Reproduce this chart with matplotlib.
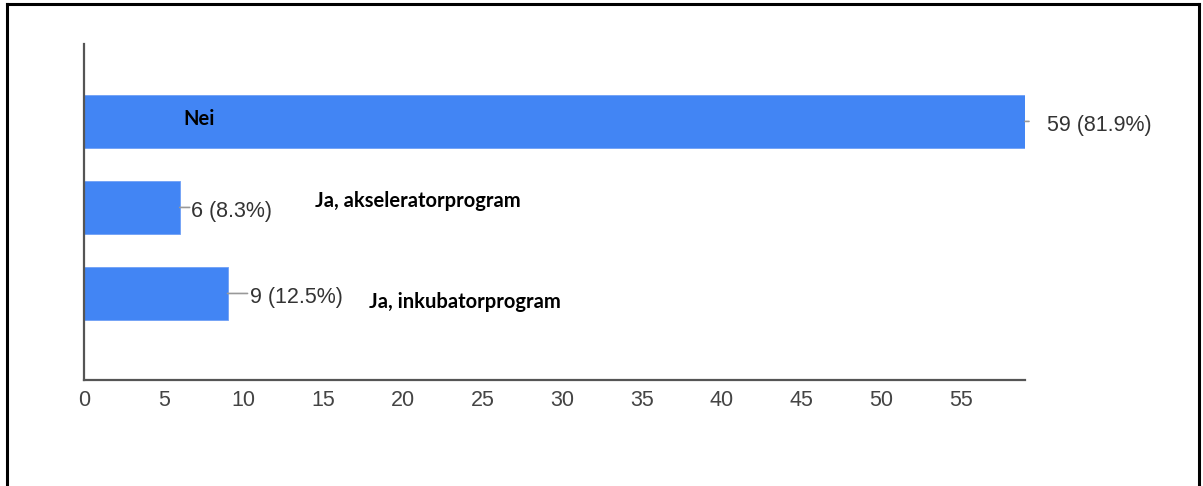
import matplotlib
matplotlib.use("Agg")
import matplotlib.pyplot as plt
from matplotlib.lines import Line2D

categories = ["Nei", "Ja, akseleratorprogram", "Ja, inkubatorprogram"]
counts = [59, 6, 9]
percents = [81.9, 8.3, 12.5]
xticks = [0, 5, 10, 15, 20, 25, 30, 35, 40, 45, 50, 55]

# layout for the category annotations (data x, y offset from bar centre)
cat_label_x = [6.2, 14.5, 17.9]
cat_label_dy = [-0.03, -0.08, 0.10]
# connector length / gap (pixels) for value labels
conn_len = [4, 10, 20]
text_gap = [22, 11, 22]

W, H = 1203, 486
fig = plt.figure(figsize=(W / 100, H / 100), dpi=100)
fig.patch.set_facecolor("white")

ax = fig.add_axes([84 / W, 1 - 380 / H, (1025 - 84) / W, (380 - 44) / H])

bar_color = "#4285F4"
ypos = list(range(len(categories)))
ax.barh(ypos, counts, height=0.616, color=bar_color, edgecolor="#6fa0f6", linewidth=0.6, zorder=2)

ax.set_xlim(0, 59)
ax.set_ylim(3.006, -0.9)
ax.set_xticks(xticks)
ax.set_xticklabels([str(t) for t in xticks], fontsize=15.5, color="#444444", family="Liberation Sans")
ax.set_yticks([])
ax.tick_params(axis="x", length=0, pad=7)

for s in ["top", "right"]:
    ax.spines[s].set_visible(False)
for s in ["left", "bottom"]:
    ax.spines[s].set_color("#555555")
    ax.spines[s].set_linewidth(1.6)

for i, (c, p) in enumerate(zip(counts, percents)):
    ax.annotate("", xy=(c, i), xytext=(conn_len[i], 0), textcoords="offset pixels",
                arrowprops=dict(arrowstyle="-", color="#999999", lw=1.2, shrinkA=0, shrinkB=0))
    ax.annotate(f"{c} ({p}%)", xy=(c, i), xytext=(text_gap[i], -4), textcoords="offset pixels",
                ha="left", va="center", fontsize=15.5, color="#333333", family="Liberation Sans")

for i, cat in enumerate(categories):
    ax.text(cat_label_x[i], i + cat_label_dy[i], cat, ha="left", va="center",
            fontsize=14.5, fontweight="bold", color="black", family="Lato", zorder=3)

# outer frame
frame_kw = dict(color="black", lw=2.2, transform=fig.transFigure)
fig.add_artist(Line2D([7 / W, 7 / W], [0, 1 - 4 / H], **frame_kw))
fig.add_artist(Line2D([7 / W, 1199 / W], [1 - 4 / H, 1 - 4 / H], **frame_kw))
fig.add_artist(Line2D([1199 / W, 1199 / W], [0, 1 - 4 / H], **frame_kw))

fig.savefig("out.png", dpi=100)
